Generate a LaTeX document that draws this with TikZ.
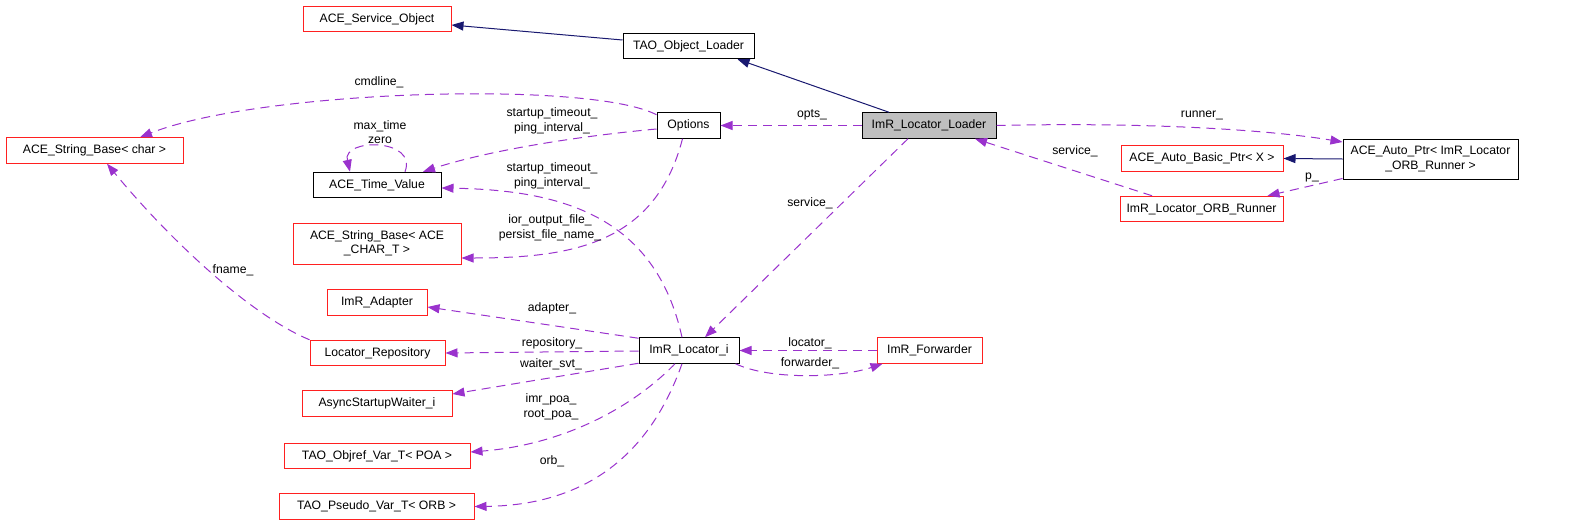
\documentclass[tikz,border=0pt]{standalone}
\usepackage{fontspec}
\setmainfont{Liberation Sans}
\usetikzlibrary{arrows.meta,calc}
\definecolor{edgep}{HTML}{9A32CD}
\definecolor{edgen}{HTML}{191970}
\definecolor{nred}{HTML}{FF2020}
\definecolor{nfill}{HTML}{BFBFBF}
\tikzset{
 nbox/.style={draw, rectangle, line width=1pt, inner sep=0pt, minimum height=25.5pt, font=\fontsize{12.2}{14.5}\selectfont, align=center, fill=white},
 rbox/.style={nbox, draw=nred},
 kbox/.style={nbox, draw=black},
 use/.style={draw=edgep, line width=1pt, dash pattern=on 9pt off 6pt, -{Triangle[length=12pt,width=9pt,fill=edgep]}},
 inh/.style={draw=edgen, line width=1pt, -{Triangle[length=12pt,width=9pt,fill=edgen]}},
 lab/.style={font=\fontsize{12.2}{14.5}\selectfont, align=center, inner sep=0pt, text=black},
}
\begin{document}
\begin{tikzpicture}[x=1pt,y=-1pt]
\useasboundingbox (0,0) rectangle (1584,525);
% nodes
\node[rbox, minimum width=148pt] (ASO) at (377,19) {ACE\_Service\_Object};
\node[kbox, minimum width=131pt] (TOL) at (688.5,46) {TAO\_Object\_Loader};
\node[kbox, minimum width=63pt] (Options) at (688.5,125.5) {Options};
\node[kbox, minimum width=134pt, fill=nfill] (Loader) at (929,125.5) {ImR\_Locator\_Loader};
\node[rbox, minimum width=177pt] (SBchar) at (94.5,150.5) {ACE\_String\_Base< char >};
\node[kbox, minimum width=128pt] (ATV) at (377,185) {ACE\_Time\_Value};
\node[rbox, minimum width=168pt, minimum height=41pt] (SBACE) at (377,243.5) {ACE\_String\_Base< ACE\\\_CHAR\_T >};
\node[rbox, minimum width=100pt] (Adapter) at (377,302.5) {ImR\_Adapter};
\node[rbox, minimum width=135pt] (LocRepo) at (377.5,353) {Locator\_Repository};
\node[rbox, minimum width=150pt] (Async) at (377,403.5) {AsyncStartupWaiter\_i};
\node[rbox, minimum width=186pt] (Objref) at (377,456) {TAO\_Objref\_Var\_T< POA >};
\node[rbox, minimum width=195pt] (Pseudo) at (376.5,506.5) {TAO\_Pseudo\_Var\_T< ORB >};
\node[kbox, minimum width=100pt] (LocI) at (689,350.5) {ImR\_Locator\_i};
\node[rbox, minimum width=105pt] (Fwd) at (929.5,350.5) {ImR\_Forwarder};
\node[rbox, minimum width=162pt] (AutoBasic) at (1202,158.5) {ACE\_Auto\_Basic\_Ptr< X >};
\node[rbox, minimum width=163pt] (ORB) at (1201.5,209) {ImR\_Locator\_ORB\_Runner};
\node[kbox, minimum width=175pt, minimum height=40pt] (AutoPtr) at (1430.5,159) {ACE\_Auto\_Ptr< ImR\_Locator\\\_ORB\_Runner >};
% inheritance
\draw[inh] ($(Loader.north)+(-40,0)$) -- ($(TOL.south)+(49,0)$);
\draw[inh] ($(TOL.west)+(0,-6)$) -- ($(ASO.east)+(0,6)$);
\draw[inh] (AutoPtr.west) -- (AutoBasic.east);
% usage
\draw[use] (Loader.west) -- (Options.east) node[lab] at (812,115) {opts\_};
\draw[use] (Loader.east) .. controls (1150,122) and (1270,130) .. ($(AutoPtr.west)+(0,-17)$) node[lab] at (1202,115) {runner\_};
\draw[use] ($(ORB.north)+(-49.5,0)$) -- ($(Loader.south)+(46,0)$) node[lab] at (1075,151) {service\_};
\draw[use] ($(AutoPtr.south west)+(0,-1)$) -- ($(ORB.north)+(66,0)$) node[lab] at (1312,177) {p\_};
\draw[use] ($(Loader.south)+(-21,0)$) -- ($(LocI.north)+(16,0)$) node[lab] at (810,203) {service\_};
\draw[use] ($(Options.north west)+(0,2.5)$) .. controls (590,80) and (260,90) .. ($(SBchar.north)+(45.5,0)$) node[lab] at (379,82) {cmdline\_};
\draw[use] ($(Options.west)+(0,3.5)$) .. controls (580,136) and (490,150) .. ($(ATV.north)+(46,0)$) node[lab] at (552,121) {startup\_timeout\_\\ping\_interval\_};
\draw[use] ($(ATV.north)+(28,0)$) .. controls (418,138) and (342,138) .. ($(ATV.north)+(-27,0)$) node[lab] at (380,132) {max\_time\\zero};
\draw[use] ($(LocI.north)+(-7,0)$) .. controls (655,215) and (560,190) .. ($(ATV.east)+(0,3)$) node[lab] at (552,176) {startup\_timeout\_\\ping\_interval\_};
\draw[use] ($(Options.south)+(-6,0)$) .. controls (655,245) and (570,258) .. ($(SBACE.east)+(0,14.5)$) node[lab] at (550,228) {ior\_output\_file\_\\persist\_file\_name\_};
\draw[use] (LocRepo.north west) .. controls (250,315) and (170,240) .. ($(SBchar.south)+(12.5,0)$) node[lab] at (233,270) {fname\_};
\draw[use] ($(LocI.north west)+(0,1)$) -- ($(Adapter.east)+(0,4.5)$) node[lab] at (552,308) {adapter\_};
\draw[use] ($(LocI.west)+(0,0.5)$) -- (LocRepo.east) node[lab] at (552,343) {repository\_};
\draw[use] ($(LocI.south west)+(0,-0.5)$) -- ($(Async.east)+(0,-9.5)$) node[lab] at (551,364) {waiter\_svt\_};
\draw[use] ($(LocI.south)+(-14,0)$) .. controls (630,410) and (560,445) .. ($(Objref.east)+(0,-4)$) node[lab] at (551,407) {imr\_poa\_\\root\_poa\_};
\draw[use] ($(LocI.south)+(-7,0)$) .. controls (655,440) and (600,505) .. (Pseudo.east) node[lab] at (552,461) {orb\_};
\draw[use] (Fwd.west) -- (LocI.east) node[lab] at (810,343) {locator\_};
\draw[use] ($(LocI.south east)+(-4,0)$) .. controls (770,380) and (840,378) .. ($(Fwd.south west)+(6,0)$) node[lab] at (810,363) {forwarder\_};
\end{tikzpicture}
\end{document}
